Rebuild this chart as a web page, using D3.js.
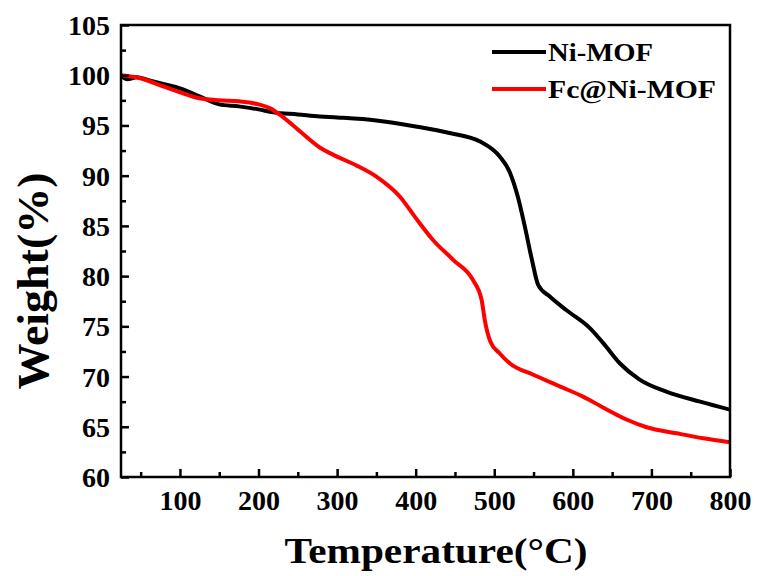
<!DOCTYPE html>
<html>
<head>
<meta charset="utf-8">
<script src="https://cdn.jsdelivr.net/npm/d3@7"></script>
<style>
  html, body { margin: 0; padding: 0; background: #fff; }
  svg { display: block; }
  text { font-family: "Liberation Serif", "Times New Roman", serif; font-weight: bold; fill: #000; }
</style>
</head>
<body>
<svg id="chart" width="758" height="576"></svg>
<script>
// ---- data ----
const seriesNames = ["Ni-MOF", "Fc@Ni-MOF"];
const seriesColors = ["#000000", "#ff0000"];

const niTemp = [25, 33, 45, 60, 80, 100, 125, 150, 175, 200, 219, 250, 278, 300, 350, 400, 443, 482, 507, 520, 530, 539, 548, 556, 571, 592, 622, 639, 660, 685, 719, 762, 800];
const niWeight = [100, 99.6, 99.8, 99.5, 99.1, 98.7, 97.9, 97.1, 96.9, 96.6, 96.3, 96.1, 95.9, 95.8, 95.5, 94.9, 94.25, 93.4, 91.9, 90.3, 87.9, 84.9, 81.6, 79.1, 77.95, 76.6, 74.8, 73.3, 71.3, 69.7, 68.5, 67.5, 66.7];

const fcTemp = [25, 50, 75, 100, 125, 150, 175, 200, 215, 230, 250, 278, 300, 325, 350, 380, 400, 422, 448, 473, 484, 488, 495, 507, 520, 549, 584, 613, 639, 669, 694, 732, 766, 800];
const fcWeight = [100, 99.7, 99.0, 98.3, 97.7, 97.5, 97.4, 97.1, 96.7, 95.9, 94.6, 92.8, 91.9, 91.0, 89.9, 87.9, 85.8, 83.6, 81.6, 79.6, 77.6, 75.6, 73.5, 72.3, 71.3, 70.2, 69.0, 68.0, 66.9, 65.7, 64.95, 64.35, 63.85, 63.45];

const xMajorTicks = [100, 200, 300, 400, 500, 600, 700, 800];
const xMinorTicks = [50, 150, 250, 350, 450, 550, 650, 750];
const yMajorTicks = [60, 65, 70, 75, 80, 85, 90, 95, 100, 105];
const yMinorTicks = [62.5, 67.5, 72.5, 77.5, 82.5, 87.5, 92.5, 97.5, 102.5];

const xTitle = "Temperature(°C)";
const yTitle = "Weight(%)";

// ---- layout ----
const mLeft = 121, mRight = 730, mTop = 25, mBottom = 477;
const svg = d3.select("#chart");

const x = d3.scaleLinear().domain([25, 800]).range([mLeft, mRight]);
const y = d3.scaleLinear().domain([60, 105]).range([mBottom, mTop]);

// curves
const series = [
  { name: seriesNames[0], color: seriesColors[0], data: niTemp.map((t, i) => [t, niWeight[i]]) },
  { name: seriesNames[1], color: seriesColors[1], data: fcTemp.map((t, i) => [t, fcWeight[i]]) }
];
const line = d3.line().x(d => x(d[0])).y(d => y(d[1])).curve(d3.curveMonotoneX);

svg.append("clipPath").attr("id", "clip").append("rect")
  .attr("x", mLeft).attr("y", mTop).attr("width", mRight - mLeft).attr("height", mBottom - mTop);

svg.append("g").attr("clip-path", "url(#clip)")
  .selectAll("path").data(series).join("path")
  .attr("d", d => line(d.data))
  .attr("fill", "none")
  .attr("stroke", d => d.color)
  .attr("stroke-width", 4)
  .attr("stroke-linejoin", "round")
  .attr("stroke-linecap", "round");

// axes (ticks inward)
const xAxis = svg.append("g").attr("transform", `translate(0,${mBottom})`)
  .call(d3.axisBottom(x).tickValues(xMajorTicks).tickSize(-8).tickPadding(0).tickFormat(d3.format("d")));
const xMinor = svg.append("g").attr("transform", `translate(0,${mBottom})`)
  .call(d3.axisBottom(x).tickValues(xMinorTicks).tickSize(-5).tickFormat(""));
const yAxis = svg.append("g").attr("transform", `translate(${mLeft},0)`)
  .call(d3.axisLeft(y).tickValues(yMajorTicks).tickSize(-8).tickPadding(0).tickFormat(d3.format("d")));
const yMinor = svg.append("g").attr("transform", `translate(${mLeft},0)`)
  .call(d3.axisLeft(y).tickValues(yMinorTicks).tickSize(-5).tickFormat(""));

[xAxis, xMinor, yAxis, yMinor].forEach(g => {
  g.select(".domain").remove();
  g.selectAll(".tick line").attr("stroke", "#000").attr("stroke-width", 2.5);
});

xAxis.selectAll(".tick text")
  .attr("y", 33).attr("dy", null)
  .style("font-size", "28px").style("font-family", "'Liberation Serif', 'Times New Roman', serif").style("font-weight", "bold");
yAxis.selectAll(".tick text")
  .attr("x", -11).attr("dy", "0.34em")
  .style("font-size", "28px").style("font-family", "'Liberation Serif', 'Times New Roman', serif").style("font-weight", "bold");

// frame
svg.append("rect")
  .attr("x", mLeft).attr("y", mTop).attr("width", mRight - mLeft).attr("height", mBottom - mTop)
  .attr("fill", "none").attr("stroke", "#000").attr("stroke-width", 2.5);

// titles
svg.append("text")
  .attr("x", 436).attr("y", 563)
  .attr("text-anchor", "middle")
  .attr("textLength", 303).attr("lengthAdjust", "spacingAndGlyphs")
  .style("font-size", "35px")
  .text(xTitle);

svg.append("text")
  .attr("transform", "translate(48,281) rotate(-90)")
  .attr("text-anchor", "middle")
  .attr("textLength", 217).attr("lengthAdjust", "spacingAndGlyphs")
  .style("font-size", "44px")
  .text(yTitle);

// legend
const legendRows = [52, 89];
const legend = svg.append("g");
series.forEach((s, i) => {
  legend.append("line")
    .attr("x1", 492).attr("x2", 546)
    .attr("y1", legendRows[i]).attr("y2", legendRows[i])
    .attr("stroke", s.color).attr("stroke-width", 4);
  legend.append("text")
    .attr("x", 548).attr("y", legendRows[i] + 4)
    .attr("dy", "0.2em")
    .attr("textLength", i === 0 ? 105 : 168).attr("lengthAdjust", "spacingAndGlyphs")
    .style("font-size", "25px")
    .text(s.name);
});
</script>
</body>
</html>
